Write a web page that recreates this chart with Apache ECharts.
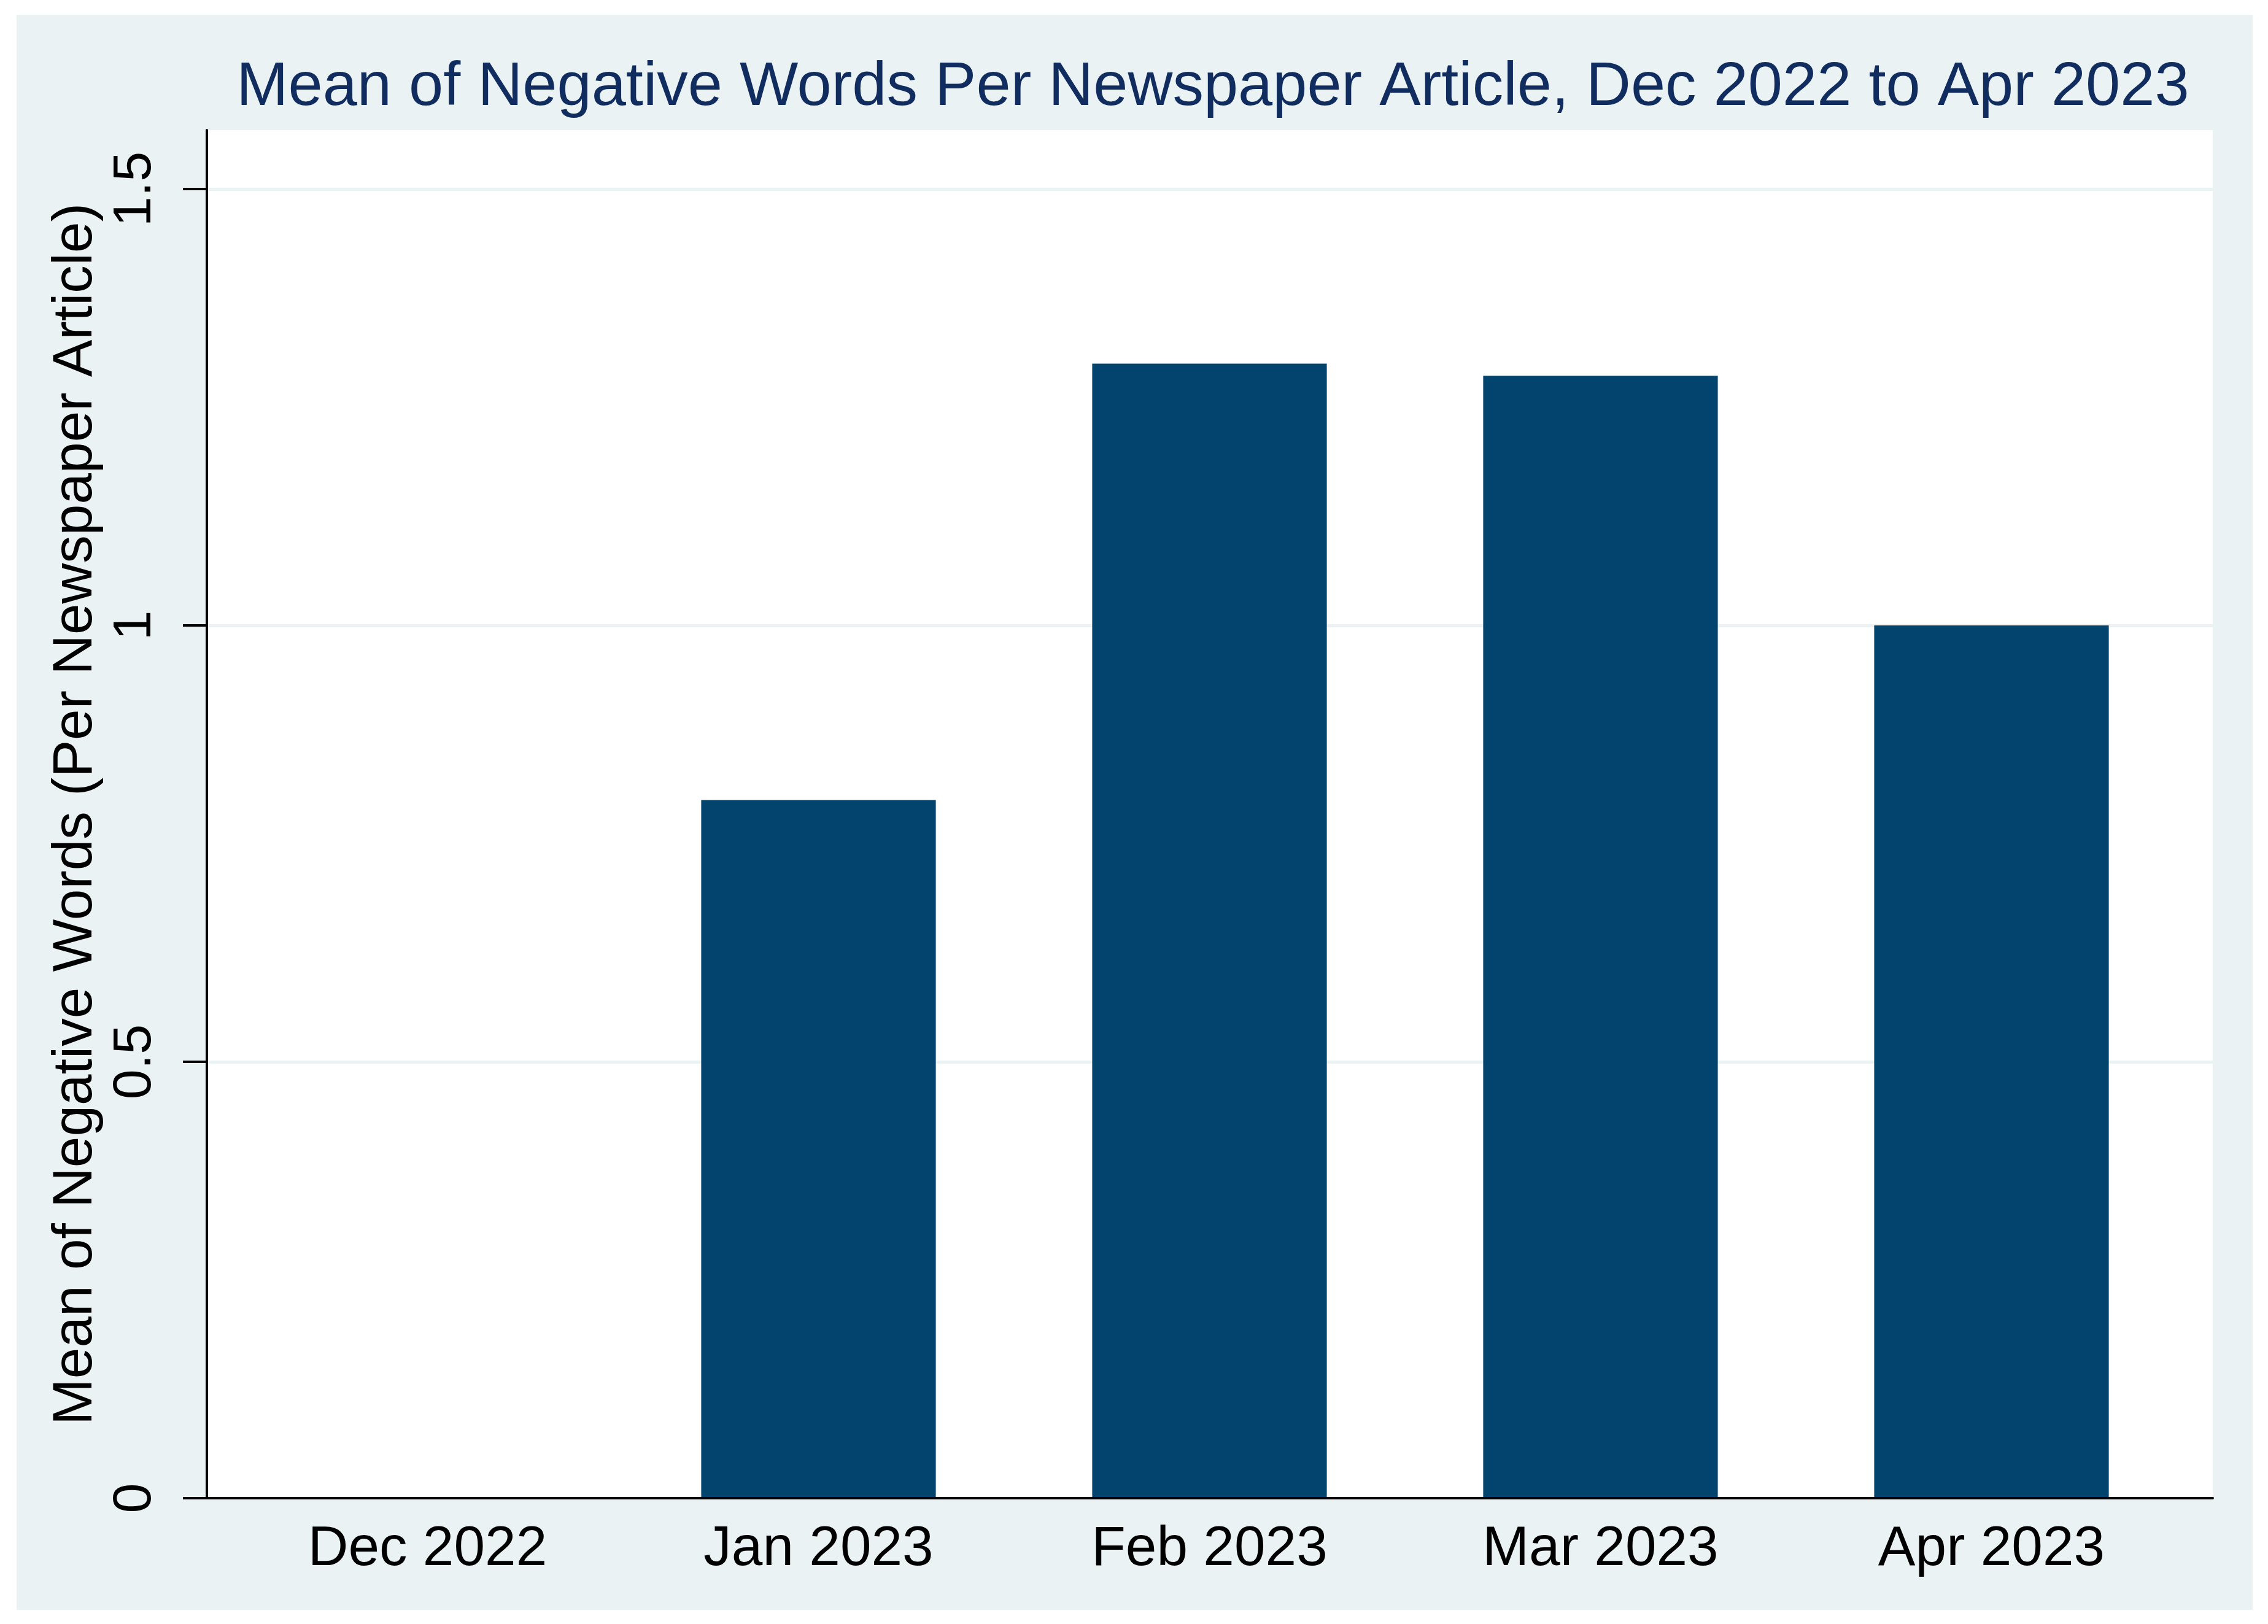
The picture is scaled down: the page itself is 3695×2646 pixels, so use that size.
<!DOCTYPE html>
<html>
<head>
<meta charset="utf-8">
<script src="https://cdn.jsdelivr.net/npm/echarts@6/dist/echarts.min.js"></script>
<style>
  html, body { margin: 0; padding: 0; background: #ffffff; }
  #frame { position: absolute; left: 27px; top: 24px; width: 3643px; height: 2599px; background: #EAF2F3; }
  #chart { position: absolute; left: 0; top: 0; width: 3695px; height: 2646px; }
</style>
</head>
<body>
<div id="frame"></div>
<div id="chart"></div>
<script>
const categories = ['Dec 2022', 'Jan 2023', 'Feb 2023', 'Mar 2023', 'Apr 2023'];
const meanNegativeWords = [0, 0.80, 1.30, 1.286, 1.00];
const yTicks = [0, 0.5, 1, 1.5];
const yMax = 1.5675;
const titleText = 'Mean of Negative Words Per Newspaper Article, Dec 2022 to Apr 2023';
const yTitle = 'Mean of Negative Words (Per Newspaper Article)';

const FONT = '"Liberation Sans", Arial, Helvetica, sans-serif';
const chart = echarts.init(document.getElementById('chart'), null, { renderer: 'canvas' });

const plotLeft = 337, plotTop = 212, plotRight = 3605, plotBottom = 2441;
const catLeft = 378, catWidth = 3185;

chart.setOption({
  backgroundColor: 'transparent',
  animation: false,
  title: {
    text: titleText,
    left: (plotLeft + plotRight) / 2,
    textAlign: 'center',
    top: 88,
    textStyle: { fontFamily: FONT, fontSize: 101, fontWeight: 'normal', color: '#112D5F' }
  },
  grid: [
    { left: plotLeft, top: plotTop, width: plotRight - plotLeft, height: plotBottom - plotTop,
      show: true, backgroundColor: '#ffffff', borderWidth: 0, containLabel: false },
    { left: catLeft, top: plotTop, width: catWidth, height: plotBottom - plotTop, containLabel: false }
  ],
  xAxis: [
    { type: 'value', gridIndex: 0, min: 0, max: 1, z: 5,
      axisLine: { show: true, lineStyle: { color: '#000000', width: 4 } },
      axisTick: { show: false }, axisLabel: { show: false }, splitLine: { show: false } },
    { type: 'category', gridIndex: 1, data: categories,
      axisLine: { show: false }, axisTick: { show: false }, splitLine: { show: false },
      axisLabel: { show: true, margin: 38, color: '#000000', fontFamily: FONT, fontSize: 91 } }
  ],
  yAxis: [
    { type: 'value', gridIndex: 0, min: 0, max: yMax,
      name: yTitle, nameLocation: 'middle', nameGap: 153,
      nameTextStyle: { fontFamily: FONT, fontSize: 91, color: '#000000' },
      axisLine: { show: true, lineStyle: { color: '#000000', width: 4 } },
      axisTick: { show: true, length: 39, customValues: yTicks, lineStyle: { color: '#000000', width: 4 } },
      axisLabel: { show: true, rotate: 90, margin: 72, customValues: yTicks,
        color: '#000000', fontFamily: FONT, fontSize: 88 },
      splitLine: { show: true, lineStyle: { color: '#EAF2F3', width: 5 } } },
    { type: 'value', gridIndex: 1, min: 0, max: yMax, show: false, splitLine: { show: false } }
  ],
  series: [
    { type: 'bar', xAxisIndex: 1, yAxisIndex: 1, data: meanNegativeWords, barWidth: '60%',
      itemStyle: { color: '#03446F' } }
  ]
});
</script>
</body>
</html>
